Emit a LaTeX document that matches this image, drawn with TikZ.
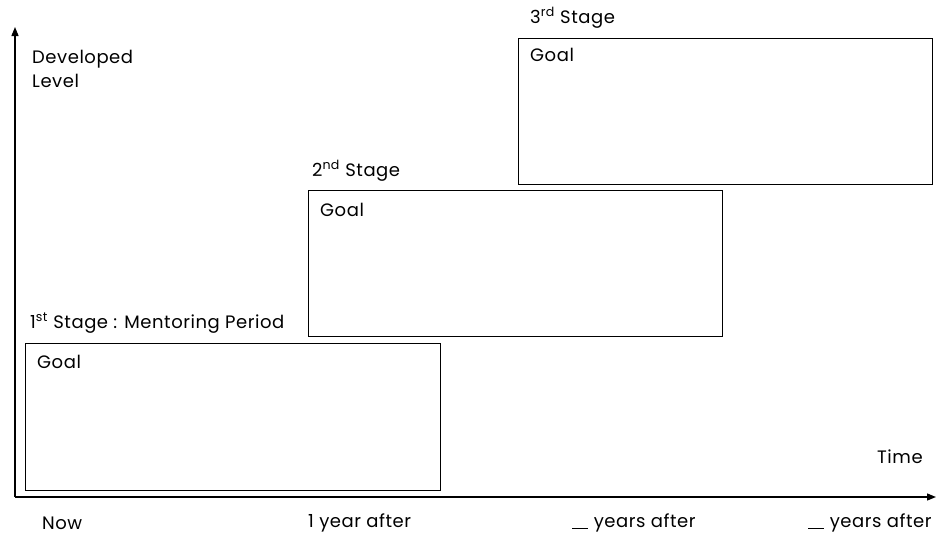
\documentclass[tikz,border=0pt]{standalone}
\usepackage{fontspec}
\setmainfont{Poppins}[LetterSpace=3]
\usetikzlibrary{arrows.meta}
\begin{document}
\begin{tikzpicture}[x=1pt,y=-1pt,
  lbl/.style={inner sep=0pt,anchor=base west,font=\fontsize{18}{21}\selectfont},
  stagebox/.style={draw,line width=0.9pt},
  axis/.style={line width=1.3pt,-{Triangle[length=9pt,width=7pt]}}]
\useasboundingbox (0,0) rectangle (940,539);
% axes
\coordinate (origin) at (15,497);
\coordinate (ytop) at (15,27);
\coordinate (xend) at (936,497);
\draw[axis] (origin) -- (ytop);
\draw[axis] (origin) -- (xend);
% stage boxes
\draw[stagebox] (25,343) rectangle (440,490);
\draw[stagebox] (308,190) rectangle (722,336);
\draw[stagebox] (518,38) rectangle (932,184);
% axis labels
\node[lbl] (dev) at (32,63) {Developed};
\node[lbl] (lev) at (32,87) {Level};
\node[lbl] (time) at (877,463) {Time};
% stage captions
\node[lbl] (s1) at (30,328) {1\textsuperscript{st} Stage : Mentoring Period};
\node[lbl] (s2) at (312,176) {2\textsuperscript{nd} Stage};
\node[lbl] (s3) at (530,23) {3\textsuperscript{rd} Stage};
% goals
\node[lbl] (g1) at (37,368) {Goal};
\node[lbl] (g2) at (320,216) {Goal};
\node[lbl] (g3) at (530,61) {Goal};
% time ticks
\node[lbl] (t0) at (42,529) {Now};
\node[lbl] (t1) at (308,527) {1 year after};
\node[lbl] (t2) at (572,527) {\underline{\hspace{0.9em}} years after};
\node[lbl] (t3) at (808,527) {\underline{\hspace{0.9em}} years after};
\end{tikzpicture}
\end{document}
